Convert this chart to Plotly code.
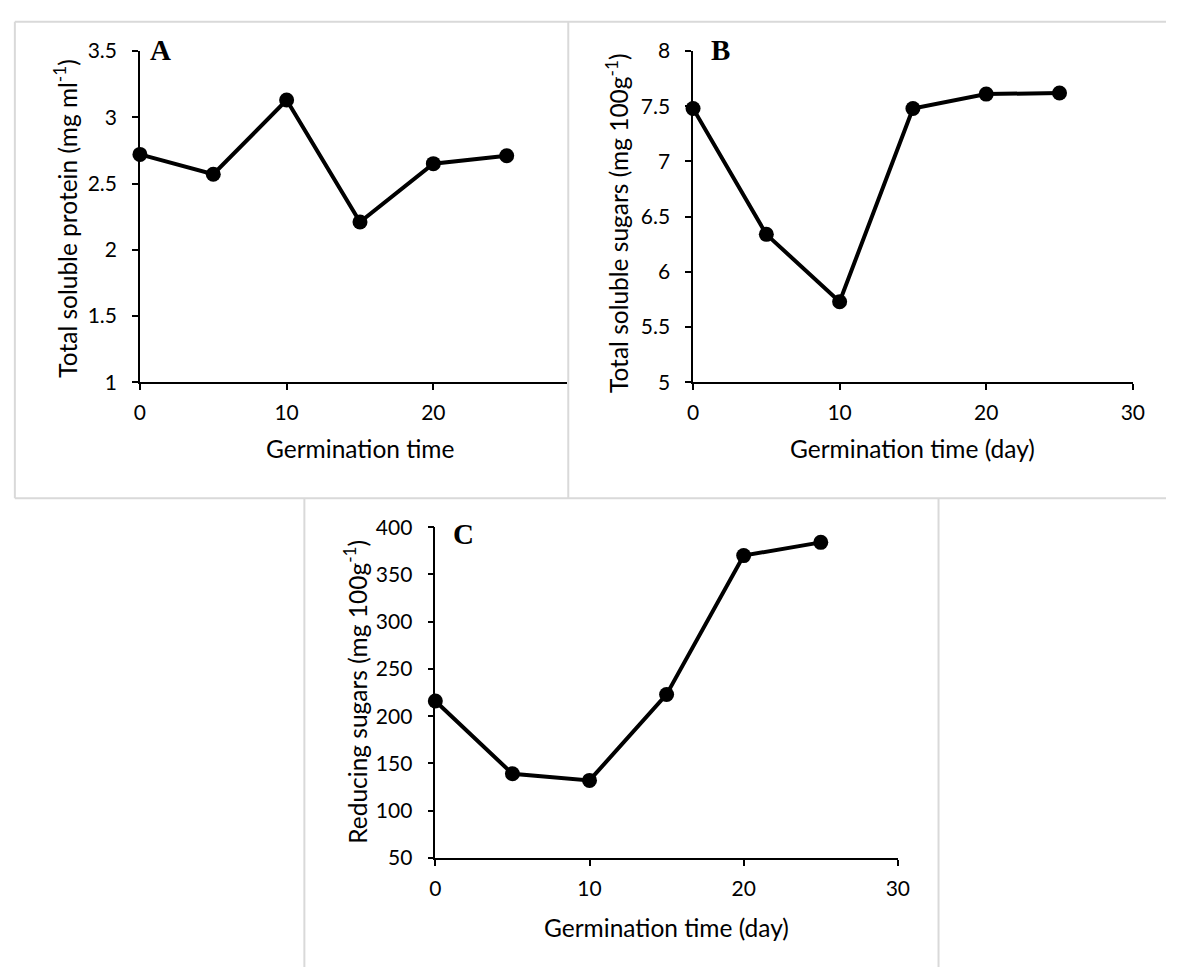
import plotly.graph_objects as go

# ---- data ----
days = [0, 5, 10, 15, 20, 25]
protein = [2.72, 2.57, 3.13, 2.21, 2.65, 2.71]
total_sugars = [7.48, 6.34, 5.73, 7.48, 7.61, 7.62]
reducing_sugars = [216, 139, 132, 223, 370, 384]

x_ticks_a = [0, 10, 20]
x_ticks_bc = [0, 10, 20, 30]

panel_letters = ["A", "B", "C"]
x_title_a = "Germination time"
x_title_bc = "Germination time (day)"
y_title_a = "Total soluble protein (mg ml<sup>-1</sup>)"
y_title_b = "Total soluble sugars (mg 100g<sup>-1</sup>)"
y_title_c = "Reducing sugars (mg 100g<sup>-1</sup>)"

W, H = 1178, 978
FONT = "Lato, Carlito, 'Open Sans', sans-serif"
TICK_SIZE = 21
TITLE_SIZE = 24.5


def px(x):
    return x / W


def py(y):
    return 1 - y / H


fig = go.Figure()

for xs, ys, xa, ya in [
    (days, protein, "x", "y"),
    (days, total_sugars, "x2", "y2"),
    (days, reducing_sugars, "x3", "y3"),
]:
    fig.add_trace(go.Scatter(
        x=xs, y=ys, xaxis=xa, yaxis=ya, mode="lines+markers",
        line=dict(color="black", width=4),
        marker=dict(color="black", size=15),
        cliponaxis=False, showlegend=False, hoverinfo="x+y",
    ))

axis_common = dict(
    showline=True, linecolor="black", linewidth=1.5,
    ticks="outside", ticklen=6, tickwidth=1.5, tickcolor="black",
    showgrid=False, zeroline=False,
    tickfont=dict(family=FONT, size=TICK_SIZE, color="black"),
    fixedrange=True,
)
xstyle = dict(axis_common, ticklabelstandoff=5)
ystyle = dict(axis_common, ticklabelstandoff=11)

fig.update_layout(
    width=W, height=H, autosize=False,
    margin=dict(l=0, r=0, t=0, b=0),
    paper_bgcolor="white", plot_bgcolor="white",
    xaxis=dict(domain=[px(136), px(570)], range=[0, 29.13], tickvals=x_ticks_a,
               anchor="y", **xstyle),
    yaxis=dict(domain=[py(378), py(38)], range=[1, 3.5], dtick=0.5, tick0=1,
               anchor="x", **ystyle),
    xaxis2=dict(domain=[px(697.7), px(1144.3)], range=[0, 30], tickvals=x_ticks_bc,
                anchor="y2", **xstyle),
    yaxis2=dict(domain=[py(378), py(38)], range=[5, 8], dtick=0.5, tick0=5,
                anchor="x2", **ystyle),
    xaxis3=dict(domain=[px(436), px(905.7)], range=[0, 30], tickvals=x_ticks_bc,
                anchor="y3", **xstyle),
    yaxis3=dict(domain=[py(866), py(526.7)], range=[50, 400], dtick=50, tick0=50,
                anchor="x3", **ystyle),
)

# frames (light grey boxes around panels)
frame = dict(color="#d9d9d9", width=2)
segments = [
    (9, 8, 1178, 8),
    (9, 8, 9, 497),
    (571, 8, 571, 497),
    (9, 497, 1178, 497),
    (303, 497, 303, 978),
    (947, 497, 947, 978),
]
for x0, y0, x1, y1 in segments:
    fig.add_shape(type="line", xref="paper", yref="paper",
                  x0=px(x0), y0=py(y0), x1=px(x1), y1=py(y1), line=frame)

anns = []
# x titles
for text, x, y in [(x_title_a, 360, 446), (x_title_bc, 921, 446), (x_title_bc, 671, 937)]:
    anns.append(dict(text=text, x=px(x), y=py(y), xref="paper", yref="paper",
                     showarrow=False, xanchor="center", yanchor="middle",
                     font=dict(family=FONT, size=TITLE_SIZE, color="black")))
# y titles
for text, x, y in [(y_title_a, 60, 210), (y_title_b, 620, 215), (y_title_c, 355, 696)]:
    anns.append(dict(text=text, x=px(x), y=py(y), xref="paper", yref="paper",
                     showarrow=False, xanchor="center", yanchor="middle", textangle=-90,
                     font=dict(family=FONT, size=TITLE_SIZE, color="black")))
# panel letters
for text, x, y in zip(panel_letters, [157, 726, 465], [37, 37, 534]):
    anns.append(dict(text="<b>%s</b>" % text, x=px(x), y=py(y), xref="paper", yref="paper",
                     showarrow=False, xanchor="center", yanchor="middle",
                     font=dict(family="'Liberation Serif', 'Times New Roman', serif",
                               size=29, color="black")))
fig.update_layout(annotations=anns)

fig.write_html("out.html", config={"displayModeBar": False},
               post_script="document.body.style.margin='0';document.body.style.overflow='hidden';")
